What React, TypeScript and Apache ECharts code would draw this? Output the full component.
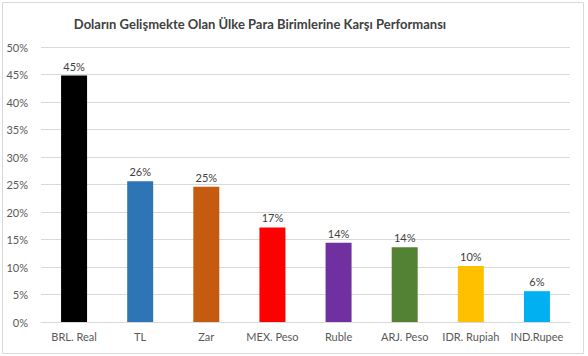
import React, { useEffect, useRef } from "react";
import * as echarts from "echarts";

const TITLE = "Doların Gelişmekte Olan Ülke Para Birimlerine Karşı Performansı";
const categories = ["BRL. Real", "TL", "Zar", "MEX. Peso", "Ruble", "ARJ. Peso", "IDR. Rupiah", "IND.Rupee"];
const values = [44.8, 25.6, 24.6, 17.2, 14.4, 13.6, 10.2, 5.6];
const colors = ["#000000", "#2E75B6", "#C55A11", "#FF0000", "#7030A0", "#548235", "#FFC000", "#00B0F0"];

const FONT = "Lato, 'Open Sans', sans-serif";

export default function App() {
  const ref = useRef<HTMLDivElement>(null);
  useEffect(() => {
    if (!ref.current) return;
    const chart = echarts.init(ref.current, null, { renderer: "svg" });
    chart.setOption({
      animation: false,
      backgroundColor: "#ffffff",
      graphic: [
        {
          type: "rect",
          shape: { x: 2.5, y: 2.5, width: 581, height: 351 },
          style: { fill: "none", stroke: "#d9d9d9", lineWidth: 1 },
          silent: true,
        },
        {
          type: "text",
          x: 260,
          y: 24,
          style: {
            text: TITLE,
            font: `bold 13px ${FONT}`,
            fill: "#404040",
            textAlign: "center",
            textVerticalAlign: "middle",
          },
        },
      ],
      grid: { left: 41, right: 18, top: 47, bottom: 34 },
      xAxis: {
        type: "category",
        data: categories,
        axisLine: { lineStyle: { color: "#d9d9d9" } },
        axisTick: { show: false },
        axisLabel: { color: "#595959", fontSize: 11, fontFamily: FONT, margin: 9, interval: 0 },
      },
      yAxis: {
        type: "value",
        min: 0,
        max: 50,
        interval: 5,
        axisLine: { show: false },
        axisTick: { show: false },
        splitLine: { lineStyle: { color: "#d9d9d9" } },
        axisLabel: { color: "#595959", fontSize: 11, fontFamily: FONT, margin: 13, formatter: (v: number) => `${v}%` },
      },
      series: [
        {
          type: "bar",
          barWidth: 26,
          data: values.map((v, i) => ({ value: v, itemStyle: { color: colors[i] } })),
          label: {
            show: true,
            position: "top",
            distance: 4,
            color: "#404040",
            fontSize: 11,
            fontFamily: FONT,
            formatter: (p: any) => `${Math.round(p.value)}%`,
          },
        },
      ],
    });
    return () => chart.dispose();
  }, []);
  return <div ref={ref} style={{ position: "fixed", left: 0, top: 0, width: 588, height: 356 }} />;
}
